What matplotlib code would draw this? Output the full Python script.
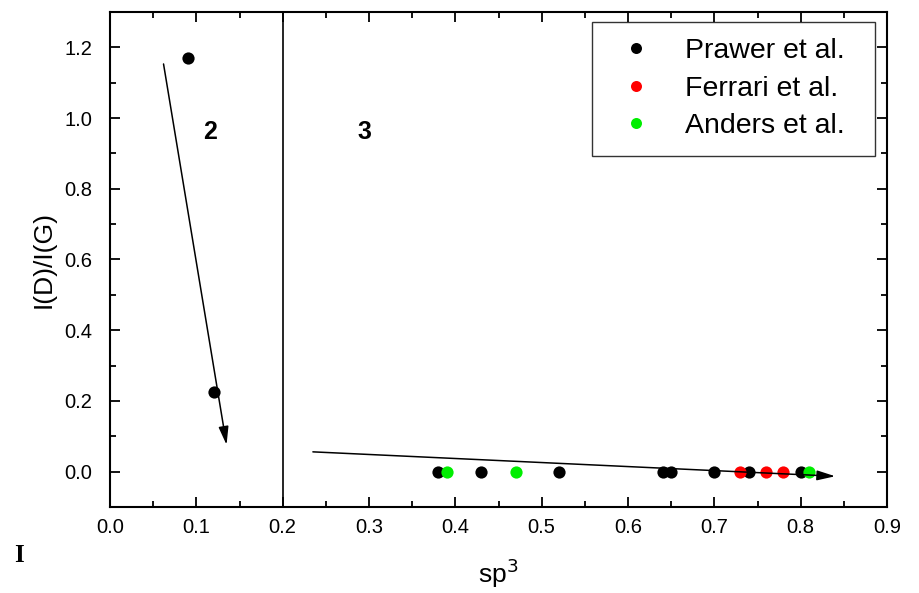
import matplotlib
matplotlib.use("Agg")
import matplotlib.pyplot as plt
from matplotlib.ticker import MultipleLocator

plt.rcParams['font.family'] = ['Liberation Sans', 'DejaVu Sans']

# Raman I(D)/I(G) ratio versus sp3 fraction
prawer_sp3 = [0.09, 0.12, 0.38, 0.43, 0.52, 0.64, 0.65, 0.70, 0.74, 0.80]
prawer_ratio = [1.17, 0.225, 0.0, 0.0, 0.0, 0.0, 0.0, 0.0, 0.0, 0.0]
ferrari_sp3 = [0.73, 0.76, 0.78]
ferrari_ratio = [0.0, 0.0, 0.0]
anders_sp3 = [0.39, 0.47, 0.81]
anders_ratio = [0.0, 0.0, 0.0]

# trend arrows (start, end) for stage 2 and stage 3
arrow_stage2 = [(0.062, 1.153), (0.135, 0.076)]
arrow_stage3 = [(0.235, 0.056), (0.840, -0.013)]
stage_boundary = 0.2

x_ticks = [0.0, 0.1, 0.2, 0.3, 0.4, 0.5, 0.6, 0.7, 0.8, 0.9]
x_ticklabels = ['0.0', '0.1', '0.2', '0.3', '0.4', '0.5', '0.6', '0.7', '0.8', '0.9']
y_ticks = [0.0, 0.2, 0.4, 0.6, 0.8, 1.0, 1.2]
y_ticklabels = ['0.0', '0.2', '0.4', '0.6', '0.8', '1.0', '1.2']

fig = plt.figure(figsize=(9.19, 5.93), dpi=100)
ax = fig.add_axes([0.1197, 0.145, 0.8455, 0.8348])

ms = 8.8
ax.plot(prawer_sp3, prawer_ratio, 'o', color='black', ms=ms, mec='none', label='Prawer et al.', zorder=3)
ax.plot(ferrari_sp3, ferrari_ratio, 'o', color='#ff0000', ms=ms, mec='none', label='Ferrari et al.', zorder=3)
ax.plot(anders_sp3, anders_ratio, 'o', color='#00ee00', ms=ms, mec='none', label='Anders et al.', zorder=3)

ax.axvline(stage_boundary, color='black', lw=1.2, zorder=2)

for (x0, y0), (x1, y1) in (arrow_stage2, arrow_stage3):
    ax.annotate('', xy=(x1, y1), xytext=(x0, y0),
                arrowprops=dict(arrowstyle='-|>,head_length=1.1,head_width=0.3',
                                color='black', lw=1.1, shrinkA=0, shrinkB=0),
                zorder=4)

ax.text(0.116, 0.96, '2', fontsize=18, fontweight='bold', ha='center', va='center')
ax.text(0.295, 0.96, '3', fontsize=18, fontweight='bold', ha='center', va='center')

ax.set_xlim(0.0, 0.9)
ax.set_ylim(-0.1, 1.3)
ax.xaxis.set_minor_locator(MultipleLocator(0.05))
ax.yaxis.set_minor_locator(MultipleLocator(0.1))
ax.set_xticks(x_ticks)
ax.set_xticklabels(x_ticklabels)
ax.set_yticks(y_ticks)
ax.set_yticklabels(y_ticklabels)

ax.tick_params(which='both', direction='in', top=True, right=True, width=1.3, labelsize=14.5)
ax.tick_params(which='major', length=7.5)
ax.tick_params(which='minor', length=4)
ax.tick_params(axis='x', which='major', pad=8)
ax.tick_params(axis='y', which='major', pad=13)
for s in ax.spines.values():
    s.set_linewidth(1.5)

ax.set_xlabel('sp$^3$', fontsize=19, labelpad=14)
ax.set_ylabel('I(D)/I(G)', fontsize=19, labelpad=6)

leg = ax.legend(loc='upper right', bbox_to_anchor=(0.6203, 0.5, 0.3643, 0.48),
                mode='expand', borderaxespad=0,
                fontsize=20.5, markerscale=0.9, frameon=True, fancybox=False,
                handletextpad=0.77, labelspacing=0.4, borderpad=0.58, handlelength=1.9)
leg.get_frame().set_edgecolor('black')
leg.get_frame().set_linewidth(1.0)

fig.text(0.021, 0.064, 'I', fontsize=18, fontweight='bold', family='Liberation Serif',
         ha='center', va='center')

fig.savefig('out.png', dpi=100)
